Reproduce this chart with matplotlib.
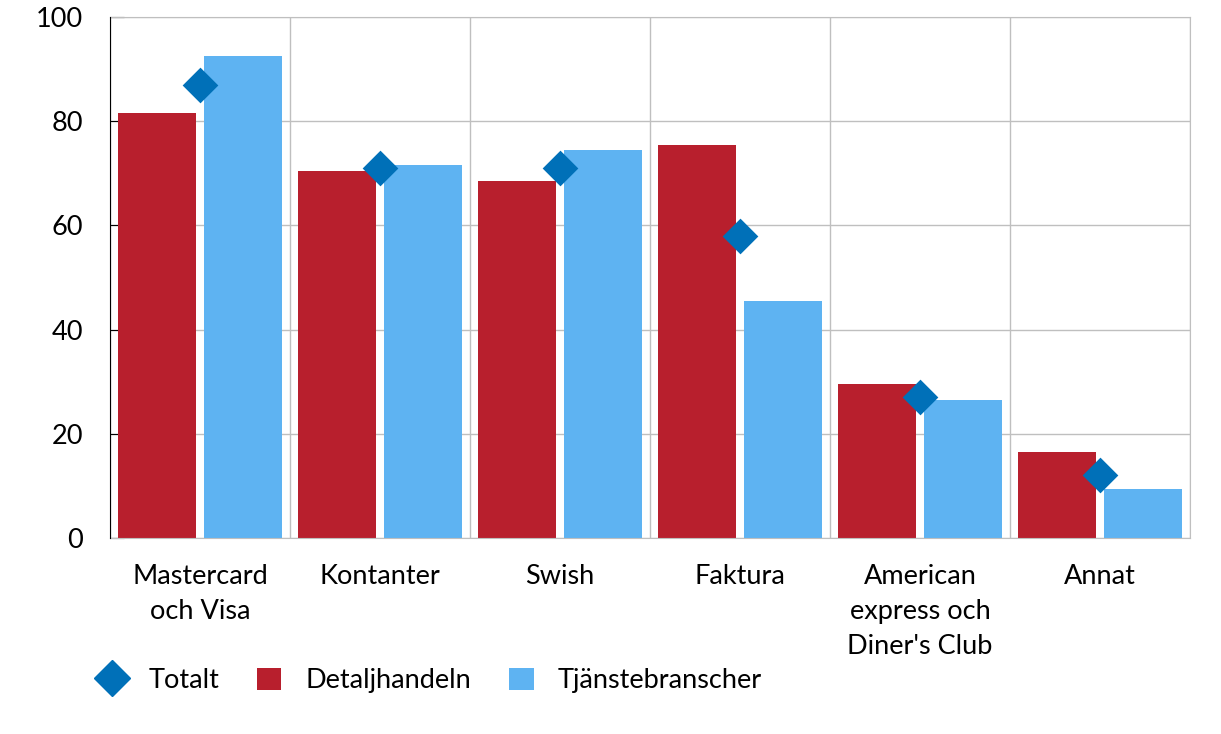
import numpy as np
import matplotlib.pyplot as plt
from matplotlib.lines import Line2D
from matplotlib.patches import Patch

plt.rcParams['font.family'] = ['Lato', 'DejaVu Sans']

kategorier = ["Mastercard\noch Visa", "Kontanter", "Swish", "Faktura",
              "American\nexpress och\nDiner's Club", "Annat"]
detaljhandeln = [81.5, 70.5, 68.5, 75.5, 29.5, 16.5]
tjanste = [92.5, 71.5, 74.5, 45.5, 26.5, 9.5]
totalt = [87, 71, 71, 58, 27, 12]

rod = "#B81F2D"
bla = "#5EB3F2"
diamant = "#0070B8"
grid_c = "#BFBFBF"

fig = plt.figure(figsize=(12.21, 7.34), dpi=100)
ax = fig.add_axes([0.0901, 0.267, 0.8845, 0.710])

x = np.arange(len(kategorier))
bw = 0.433
off = 0.239
ax.bar(x - off, detaljhandeln, bw, color=rod, zorder=2)
ax.bar(x + off, tjanste, bw, color=bla, zorder=2)
ax.scatter(x, totalt, marker="D", s=330, color=diamant, zorder=3, linewidths=0)

ax.set_xlim(-0.5, len(kategorier) - 0.5)
ax.set_ylim(0, 100)
ax.set_yticks(range(0, 101, 20))
ax.set_xticks(x)
ax.set_xticklabels(kategorier, fontsize=19.5, linespacing=1.5)
ax.set_xticks(np.arange(-0.5, len(kategorier), 1), minor=True)
ax.tick_params(axis="x", which="both", length=0, pad=19)
ax.tick_params(axis="y", direction="in", length=10, labelsize=19.5, pad=19.5, color="black")

ax.grid(axis="y", color=grid_c, linewidth=1, zorder=0)
ax.grid(axis="x", which="minor", color=grid_c, linewidth=1, zorder=0)
ax.set_axisbelow(True)
for s in ["top", "right", "bottom"]:
    ax.spines[s].set_color(grid_c)
ax.spines["left"].set_color("black")
ax.spines["left"].set_zorder(4)

handles = [
    Line2D([], [], marker="D", linestyle="none", color=diamant, markersize=18),
    Patch(facecolor=rod),
    Patch(facecolor=bla),
]
fig.legend(handles, ["Totalt", "Detaljhandeln", "Tjänstebranscher"],
           loc="lower left", bbox_to_anchor=(0.062, 0.022), ncol=3, frameon=False,
           fontsize=19.5, handlelength=0.89, handleheight=0.89, columnspacing=1.4,
           handletextpad=0.9)

fig.savefig("out.png", dpi=100)
